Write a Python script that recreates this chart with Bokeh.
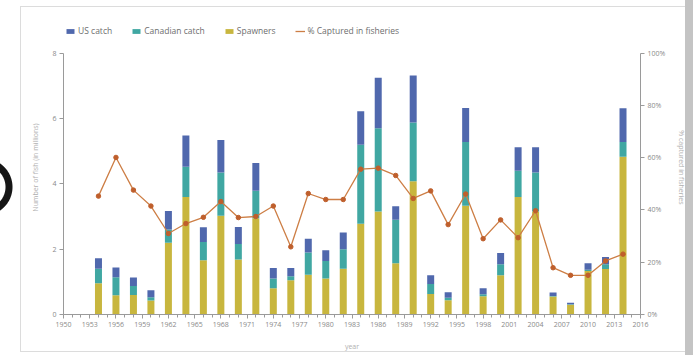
from bokeh.plotting import figure
from bokeh.models import (ColumnDataSource, Range1d, LinearAxis, FixedTicker,
                          PrintfTickFormatter, Legend, LegendItem)
from bokeh.embed import file_html
from bokeh.resources import INLINE

# Return years (biennial runs)
years = list(range(1954, 2015, 2))

# Run size components, millions of fish
spawners = [0.96, 0.59, 0.60, 0.43, 2.20, 3.60, 1.66, 3.02, 1.68, 2.95,
            0.80, 1.05, 1.22, 1.10, 1.40, 2.78, 3.15, 1.57, 4.08, 0.63,
            0.44, 3.33, 0.56, 1.20, 3.60, 3.15, 0.55, 0.30, 1.33, 1.39, 4.83]
canadian_catch = [0.44, 0.55, 0.27, 0.10, 0.40, 0.92, 0.56, 1.33, 0.48, 0.84,
                  0.30, 0.12, 0.68, 0.54, 0.60, 2.42, 2.55, 1.33, 1.80, 0.30,
                  0.07, 1.95, 0.06, 0.34, 0.80, 1.20, 0.02, 0.01, 0.04, 0.15, 0.45]
us_catch = [0.32, 0.30, 0.26, 0.21, 0.57, 0.96, 0.45, 0.99, 0.52, 0.85,
            0.32, 0.25, 0.42, 0.33, 0.51, 1.02, 1.55, 0.41, 1.44, 0.27,
            0.17, 1.04, 0.18, 0.34, 0.72, 0.77, 0.10, 0.05, 0.20, 0.22, 1.03]

# Share of the run taken in fisheries, percent
pct_captured = [45.3, 60.1, 47.6, 41.5, 31.0, 34.8, 37.2, 43.2, 37.1, 37.5,
                41.5, 25.9, 46.3, 44.0, 44.0, 55.6, 56.0, 53.2, 44.4, 47.3,
                34.4, 46.1, 29.0, 36.2, 29.4, 39.7, 17.9, 15.0, 15.0, 20.5, 23.1]

x_ticks = list(range(1950, 2017, 3))
x_minor = list(range(1950, 2017))
y_ticks = [0, 2, 4, 6, 8]
pct_ticks = [0, 20, 40, 60, 80, 100]

BLUE = "#5068ad"
TEAL = "#40a7a2"
YELLOW = "#c8b63e"
LINE = "#cd7e45"
DOT = "#bf5f2c"
TXT = "#8a8a8a"
FONT = "Open Sans"

src = ColumnDataSource(dict(year=years, spawn=spawners, can=canadian_catch,
                            us=us_catch, pct=pct_captured))

# The frame reaches above the 8M line so the legend can sit inside it;
# the axes themselves are bounded to 0-8 and 0-100%.
p = figure(width=693, height=355, x_range=Range1d(1950, 2016),
           y_range=Range1d(0, 9.0), output_backend="svg", toolbar_location=None,
           min_border_left=63, min_border_right=53, min_border_top=20,
           min_border_bottom=41)
p.outline_line_color = None
p.xgrid.visible = False
p.ygrid.visible = False
p.border_fill_color = None
p.background_fill_color = None

# Page card: thin grey outline, grey edge strip on the right, dark ring at left
card = "linear-gradient(#dcdcdc,#dcdcdc)"
p.styles = {
    "background": ", ".join([
        "linear-gradient(#c4c4c4,#c4c4c4) 685px 0px / 8px 355px no-repeat",
        f"{card} 20px 6px / 665px 1px no-repeat",
        f"{card} 20px 351px / 665px 1px no-repeat",
        f"{card} 20px 6px / 1px 346px no-repeat",
        "radial-gradient(circle at -16px 187px, rgba(0,0,0,0) 21px, #161616 22px, "
        "#161616 28px, rgba(0,0,0,0) 29px) 0px 0px / 40px 355px no-repeat",
        "#ffffff",
    ])
}

stack = p.vbar_stack(["spawn", "can", "us"], x="year", width=0.8, source=src,
                     fill_color=[YELLOW, TEAL, BLUE], line_color=None)

p.extra_y_ranges = {"pct": Range1d(0, 112.5)}
line = p.line("year", "pct", source=src, y_range_name="pct", color=LINE,
              line_width=1.3)
p.scatter("year", "pct", source=src, y_range_name="pct", size=4.5,
          fill_color=DOT, line_color=DOT)

right = LinearAxis(y_range_name="pct", ticker=FixedTicker(ticks=pct_ticks),
                   formatter=PrintfTickFormatter(format="%d%%"),
                   axis_label="% captured in fisheries", bounds=(0, 100))
p.add_layout(right, "right")

p.xaxis.ticker = FixedTicker(ticks=x_ticks, minor_ticks=x_minor)
p.xaxis.axis_label = "year"
p.yaxis[0].ticker = FixedTicker(ticks=y_ticks)
p.yaxis[0].bounds = (0, 8)
p.yaxis[0].axis_label = "Number of fish (in millions)"

for ax in p.xaxis + p.yaxis:
    ax.axis_line_color = "#9a9a9a"
    ax.major_tick_line_color = "#9a9a9a"
    ax.minor_tick_line_color = "#9a9a9a"
    ax.major_tick_out = 4
    ax.major_tick_in = 0
    ax.minor_tick_out = 3
    ax.minor_tick_in = 0
    ax.major_label_text_font = FONT
    ax.major_label_text_font_size = "7px"
    ax.major_label_text_color = TXT
    ax.axis_label_text_font = FONT
    ax.axis_label_text_font_size = "7px"
    ax.axis_label_text_font_style = "normal"
    ax.axis_label_text_color = "#b0b0b0"
    ax.major_label_standoff = 3
    ax.axis_label_standoff = 9

p.xaxis.axis_label_standoff = 12
for ax in p.yaxis:
    ax.minor_tick_out = 0

legend = Legend(items=[
    LegendItem(label="US catch", renderers=[stack[2]]),
    LegendItem(label="Canadian catch", renderers=[stack[1]]),
    LegendItem(label="Spawners", renderers=[stack[0]]),
    LegendItem(label="% Captured in fisheries", renderers=[line]),
], orientation="horizontal", location=(2, 278))
legend.label_text_font = FONT
legend.label_text_font_size = "8.5px"
legend.label_text_color = "#6e6e6e"
legend.glyph_width = 10
legend.glyph_height = 6
legend.label_standoff = 3
legend.spacing = 19
legend.padding = 0
legend.margin = 0
legend.border_line_color = None
legend.background_fill_alpha = 0
p.add_layout(legend)

open("out.html", "w").write(file_html(p, INLINE))
